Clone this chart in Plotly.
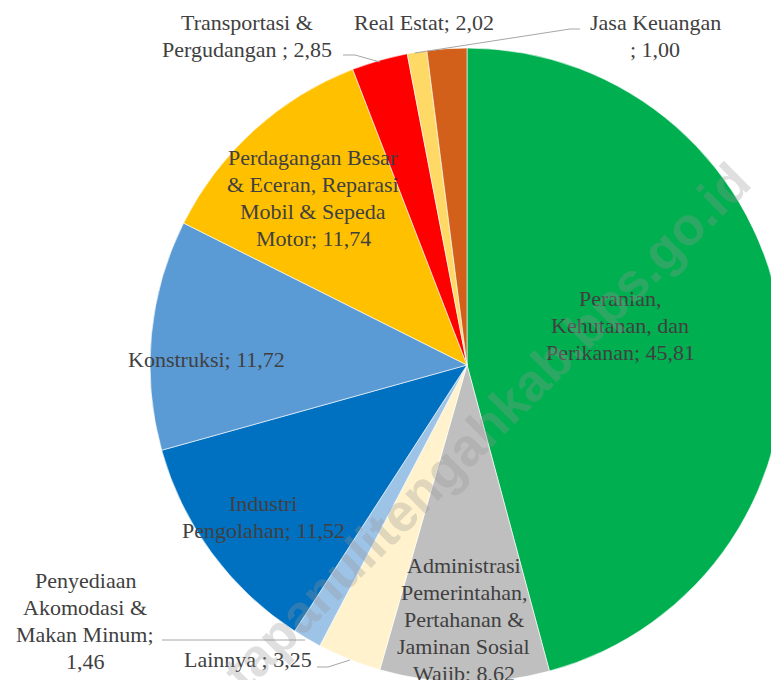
import textwrap
import plotly.graph_objects as go

# ---- data (clockwise from 12 o'clock) ----
sectors = [
    "Peranian, Kehutanan, dan Perikanan",
    "Administrasi Pemerintahan, Pertahanan & Jaminan Sosial Wajib",
    "Lainnya ",
    "Penyediaan Akomodasi & Makan Minum",
    "Industri Pengolahan",
    "Konstruksi",
    "Perdagangan Besar & Eceran, Reparasi Mobil & Sepeda Motor",
    "Transportasi & Pergudangan ",
    "Jasa Keuangan ",
    "Real Estat",
]
values = [45.81, 8.62, 3.25, 1.46, 11.52, 11.72, 11.74, 2.85, 1.00, 2.02]
colors = ["#00B050", "#BFBFBF", "#FFF2CC", "#9DC3E6", "#0070C0",
          "#5B9BD5", "#FFC000", "#FF0000", "#FFD966", "#D2601A"]
watermark = "tapanulitengahkab.bps.go.id"

# ---- layout helpers ----
W, H = 800, 700
LINE = 27
wrap_width = [16, 14, 30, 12, 17, 30, 18, 18, 13, 30]
label_pos = [(620, 325), (464, 619), (248, 659), (85, 621), (263, 517),
             (207, 359), (313, 198), (247, 36), (655, 36), (424, 22)]
leaders = [
    None, None,
    [(317, 667), (328, 667), (350, 660)],
    [(162, 640), (305, 640)],
    None, None, None,
    [(343, 55), (355, 55), (380, 62)],
    [(580, 29), (570, 29), (415, 53)],
    None,
]


def px(x):
    return x / W


def py(y):
    return 1 - y / H


def label_text(name, val):
    return f"{name}; {val:.2f}".replace(".", ",")


fig = go.Figure()
fig.add_trace(go.Pie(
    labels=sectors,
    values=values,
    sort=False,
    direction="clockwise",
    rotation=0,
    marker=dict(colors=colors, line=dict(color="white", width=0.6)),
    textinfo="none",
    hoverinfo="label+value",
    showlegend=False,
    domain=dict(x=[px(150), px(784)], y=[py(682), py(48)]),
))

annotations = []
for name, val, w, (cx, cy) in zip(sectors, values, wrap_width, label_pos):
    lines = textwrap.wrap(label_text(name, val), width=w)
    n = len(lines)
    for i, ln in enumerate(lines):
        yy = cy + (i - (n - 1) / 2) * LINE
        annotations.append(dict(
            text=ln, x=px(cx), y=py(yy), xref="paper", yref="paper",
            showarrow=False, xanchor="center", yanchor="middle", align="center",
            font=dict(family="Liberation Serif", size=22, color="#404040"),
        ))

annotations.append(dict(
    text=watermark, x=px(486), y=py(426), xref="paper", yref="paper",
    showarrow=False, textangle=-45, xanchor="center", yanchor="middle",
    font=dict(family="Liberation Sans", size=53, color="rgba(150,150,150,0.3)",
              weight="bold"),
))

shapes = []
for pts in leaders:
    if not pts:
        continue
    path = "M " + " L ".join(f"{px(x)},{py(y)}" for x, y in pts)
    shapes.append(dict(type="path", path=path, xref="paper", yref="paper",
                       line=dict(color="#A6A6A6", width=1)))

fig.update_layout(
    width=W, height=H,
    margin=dict(l=0, r=0, t=0, b=0),
    paper_bgcolor="white", plot_bgcolor="white",
    annotations=annotations, shapes=shapes,
)

fig.write_html(
    "out.html",
    config={"displayModeBar": False},
    post_script="document.body.style.margin='0';document.body.style.overflow='hidden';",
)
